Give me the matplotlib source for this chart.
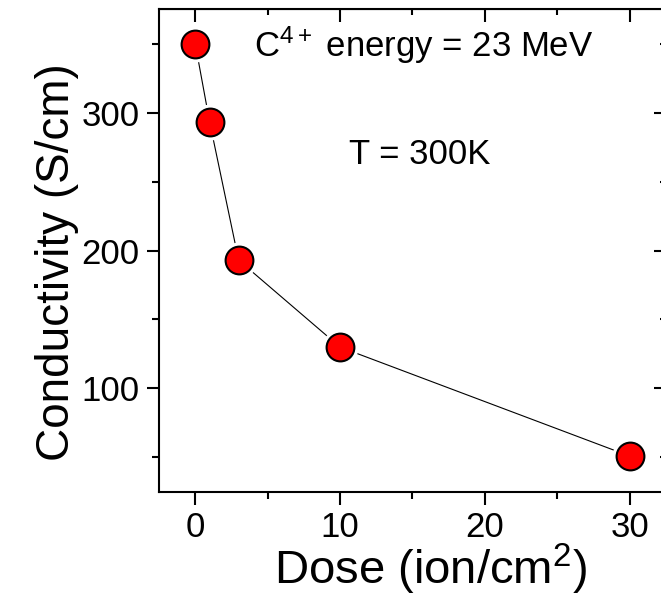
import matplotlib
matplotlib.use('Agg')
import matplotlib.pyplot as plt
from matplotlib.ticker import MultipleLocator

plt.rcParams['font.family'] = ['Liberation Sans', 'DejaVu Sans']
plt.rcParams['mathtext.fontset'] = 'custom'
plt.rcParams['mathtext.rm'] = 'Liberation Sans'
plt.rcParams['mathtext.it'] = 'Liberation Sans'
plt.rcParams['mathtext.default'] = 'regular'

dose = [0, 1, 3, 10, 30]
conductivity = [350, 293, 193, 130, 51]

fig = plt.figure(figsize=(6.61, 5.97), dpi=100)
# right spine sits just outside the picture in the original
ax = fig.add_axes([0.2405, 0.1759, 0.767, 0.809])

ax.plot(dose, conductivity, color='black', lw=0.8, zorder=1)
# white halo so the line stops short of the symbols
ax.plot(dose, conductivity, 'o', ms=26, mfc='white', mec='none', zorder=1.5, clip_on=False)
ax.plot(dose, conductivity, 'o', ms=20, mfc='red', mec='black', mew=1.5, zorder=2, clip_on=False)

ax.set_xlim(-2.5, 32.5)
ax.set_ylim(25, 375)
ax.xaxis.set_major_locator(MultipleLocator(10))
ax.xaxis.set_minor_locator(MultipleLocator(5))
ax.yaxis.set_major_locator(MultipleLocator(100))
ax.yaxis.set_minor_locator(MultipleLocator(50))

ax.tick_params(which='both', direction='out', width=1.5, labelsize=25, pad=5)
ax.tick_params(which='major', length=9)
ax.tick_params(which='minor', length=5)
for s in ax.spines.values():
    s.set_linewidth(1.5)

# mirror ticks on top and right point inward
top = ax.secondary_xaxis('top')
top.xaxis.set_major_locator(MultipleLocator(10))
top.xaxis.set_minor_locator(MultipleLocator(5))
top.tick_params(which='both', direction='in', width=1.5, labeltop=False)
top.tick_params(which='major', length=9)
top.tick_params(which='minor', length=4)
right = ax.secondary_yaxis('right')
right.yaxis.set_major_locator(MultipleLocator(100))
right.yaxis.set_minor_locator(MultipleLocator(50))
right.tick_params(which='both', direction='in', width=1.5, labelright=False)
right.tick_params(which='major', length=9)
right.tick_params(which='minor', length=4)

ax.set_xlabel('Dose (ion/cm$^2$)', fontsize=34)
ax.set_ylabel('Conductivity (S/cm)', fontsize=33)
ax.xaxis.set_label_coords(0.536, -0.104, transform=ax.transAxes)
ax.yaxis.set_label_coords(-0.158, 0.476, transform=ax.transAxes)

ax.text(0.523, 0.925, 'C$^{4+}$ energy = 23 MeV', transform=ax.transAxes,
        fontsize=25, ha='center', va='center')
ax.text(0.515, 0.698, 'T = 300K', transform=ax.transAxes,
        fontsize=25, ha='center', va='center')

fig.savefig('out.png', dpi=100)
